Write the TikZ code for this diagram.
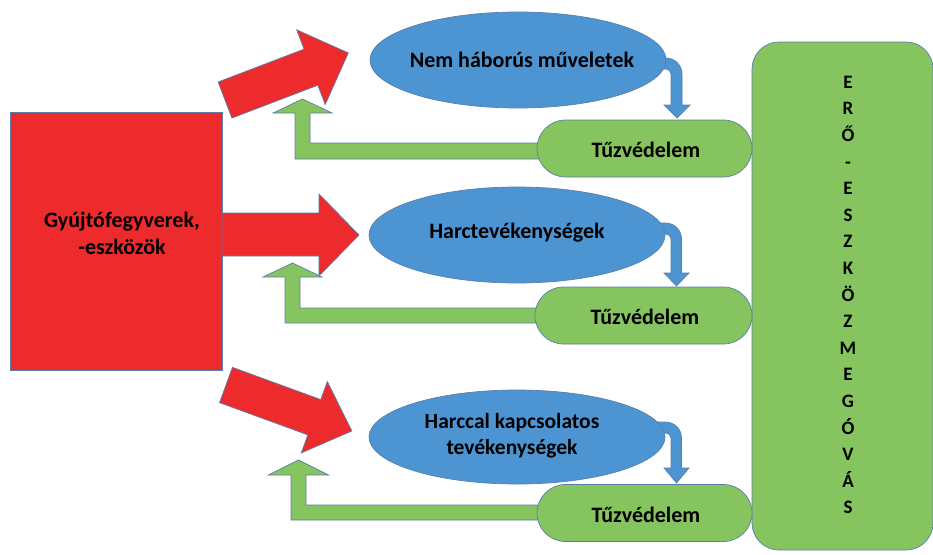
\documentclass[tikz,border=0pt]{standalone}
\usepackage{fontspec}
\setmainfont{Carlito}
\definecolor{redc}{HTML}{EE2B2C}
\definecolor{bluec}{HTML}{4D94D2}
\definecolor{greenc}{HTML}{86C45F}
\definecolor{edgec}{HTML}{5A7FA8}
\tikzset{
  outl/.style={draw=edgec, line width=0.7pt},
  redshape/.style={outl, fill=redc},
  blueshape/.style={outl, fill=bluec},
  greenshape/.style={outl, fill=greenc},
  lbl/.style={font=\fontsize{22}{26}\selectfont\bfseries, text=black, align=center, inner sep=0pt},
  ell/.style={blueshape, ellipse, minimum width=296pt, minimum height=96pt, inner sep=0pt},
  stad/.style={greenshape, rounded rectangle, minimum width=215pt, minimum height=57pt, inner sep=0pt},
}
\usetikzlibrary{shapes.geometric,shapes.misc}
\begin{document}
\begin{tikzpicture}[x=1pt,y=-1pt]
\useasboundingbox (0,0) rectangle (933,554);

% source box
\node[redshape, minimum width=212pt, minimum height=258pt, inner sep=0pt] (src) at (116,241) {};
\node[lbl, font=\fontsize{22}{27}\selectfont\bfseries] (srct) at (122,233) {Gyújtófegyverek,\\-eszközök};

% right big box
\node[greenshape, rounded corners=27pt, minimum width=181pt, minimum height=508pt, inner sep=0pt] (ero) at (842.5,296) {};
\node[font=\fontsize{19}{26.6}\selectfont\bfseries, align=center, inner sep=0pt] (erot) at (848,295)
 {E\\R\\Ő\\-\\E\\S\\Z\\K\\Ö\\Z\\M\\E\\G\\Ó\\V\\Á\\S};

% green return arrows (drawn before stadiums)
\coordinate (g1) at (540,151);
\coordinate (g2) at (540,315.5);
\coordinate (g3) at (540,512.5);
\draw[greenshape] (g1) ++(0,-8) -- (310,143) -- (310,113) -- (332,113) -- (302.5,99) -- (273,113) -- (295,113) -- (295,159) -- (540,159) -- cycle;
\draw[greenshape] (g2) ++(0,-7.5) -- (300,308) -- (300,277) -- (322,277) -- (292.5,263) -- (263,277) -- (285,277) -- (285,323) -- (540,323) -- cycle;
\draw[greenshape] (g3) ++(0,-7.5) -- (306,505) -- (306,475) -- (328.5,475) -- (298.5,460) -- (268.5,475) -- (291,475) -- (291,520) -- (540,520) -- cycle;

% blue bent arrows (drawn before ellipses)
\draw[blueshape] (650,58) -- (666,58) arc[start angle=90,end angle=0,radius=16pt] -- (682,105) -- (690,105) -- (677,118) -- (664,105) -- (671,105) -- (671,74) arc[start angle=0,end angle=90,radius=5pt] -- (650,69) -- cycle;
\draw[blueshape] (650,223) -- (665.5,223) arc[start angle=90,end angle=0,radius=16pt] -- (681.5,273) -- (689,273) -- (676.5,286) -- (664,273) -- (671,273) -- (671,239) arc[start angle=0,end angle=90,radius=5pt] -- (650,234) -- cycle;
\draw[blueshape] (650,422) -- (665.5,422) arc[start angle=90,end angle=0,radius=16pt] -- (681.5,468) -- (689,468) -- (676.5,483) -- (664,468) -- (671,468) -- (671,438) arc[start angle=0,end angle=90,radius=5pt] -- (650,433) -- cycle;

% ellipses
\node[ell] (e1) at (518,60) {};
\node[lbl] (e1t) at (522,60) {Nem háborús műveletek};
\node[ell] (e2) at (517,235) {};
\node[lbl] (e2t) at (517,233) {Harctevékenységek};
\node[ell, minimum height=94pt] (e3) at (517,437) {};
\node[lbl, font=\fontsize{21.5}{25.5}\selectfont\bfseries] (e3t) at (512,436) {Harccal kapcsolatos\\tevékenységek};

% stadiums
\node[stad] (t1) at (644.5,148.5) {};
\node[lbl] (t1t) at (646,150) {Tűzvédelem};
\node[stad, minimum width=217pt] (t2) at (643.5,315.5) {};
\node[lbl] (t2t) at (645,317) {Tűzvédelem};
\node[stad] (t3) at (644.5,513) {};
\node[lbl] (t3t) at (646,515) {Tűzvédelem};

% red arrows
\draw[redshape, shift={(225,100)}, rotate=20.9] (0,-19.3) -- (92,-19.3) -- (92,-40) -- (132,0) -- (92,40) -- (92,19.3) -- (0,19.3) -- cycle;
\draw[redshape] (src.east |- 0,213) -- (319,213) -- (319,194) -- (359,235) -- (319,276) -- (319,256) -- (src.east |- 0,256);
\draw[redshape, shift={(226,385)}, rotate=-20.06] (0,-18.8) -- (94,-18.8) -- (94,-38) -- (134,0) -- (94,38) -- (94,18.8) -- (0,18.8) -- cycle;
\end{tikzpicture}
\end{document}
